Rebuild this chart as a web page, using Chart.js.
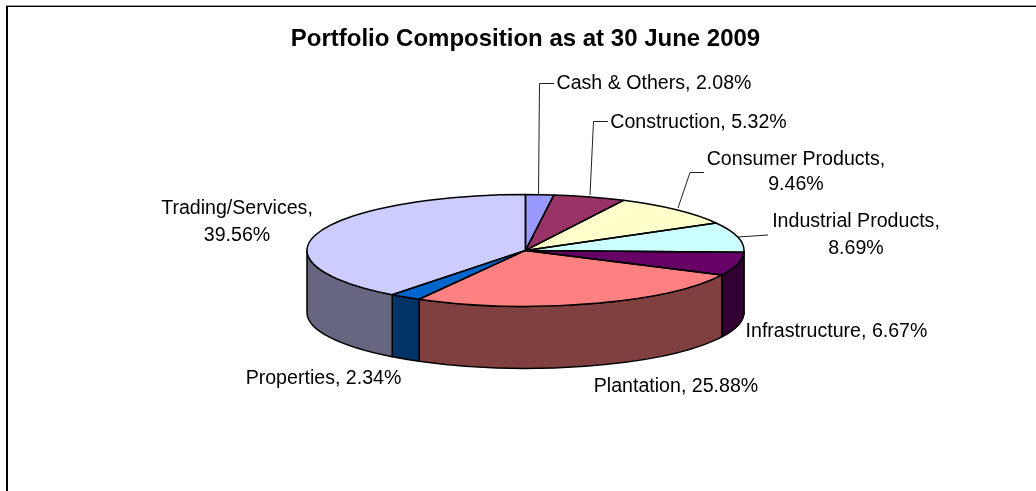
<!DOCTYPE html>
<html>
<head>
<meta charset="utf-8">
<style>
html,body{margin:0;padding:0;background:#fff}
#w{width:1036px;height:491px;position:relative}
</style>
<script src="https://cdn.jsdelivr.net/npm/chart.js@4/dist/chart.umd.min.js"></script>
</head>
<body>
<div id="w"><canvas id="c" width="1036" height="491"></canvas></div>
<script>
const categories = ["Cash & Others","Construction","Consumer Products","Industrial Products","Infrastructure","Plantation","Properties","Trading/Services"];
const values = [2.08,5.32,9.46,8.69,6.67,25.88,2.34,39.56];
const topColors = ["#9999FF","#993366","#FFFFCC","#CCFFFF","#660066","#FF8080","#0066CC","#CCCCFF"];
const sideColors = ["#4D4D80","#4D1A33","#808066","#668080","#330033","#804040","#003366","#666680"];
const titleText = "Portfolio Composition as at 30 June 2009";

const FONT = '"Liberation Sans", Arial, sans-serif';
const TILT = 56 / 218.5, DEPTH = 62;
// label layout: centre x, centre y of each line
const labelLayout = [
  {x:654,y:[84]},{x:698.5,y:[123]},{x:796,y:[159.5,185]},{x:856,y:[222,249]},
  {x:836.5,y:[332]},{x:676,y:[387]},{x:323.5,y:[379]},{x:237,y:[209,236]}
];
const labelBreak = [false,false,true,true,false,false,false,true];
const leaders = [
  [[538.5,194],[539.5,83.5],[554,83.5]],
  [[590,195],[593.5,121.5],[608,121.5]],
  [[678,208],[690,172.5],[704,172.5]],
  [[738,237],[768,235]]
];

const pie3d = {
  id:'pie3d',
  beforeDraw(chart){
    const c = chart.ctx;
    c.save();
    c.fillStyle='#fff';c.fillRect(0,0,chart.width,chart.height);
    c.fillStyle='#9a9a9a';c.fillRect(6,5,1030,1);
    c.fillStyle='#000';c.fillRect(6,6,1030,1);
    c.fillRect(6,6,2,485);
    c.restore();
  },
  beforeDatasetsDraw(chart){
    const c = chart.ctx, arcs = chart.getDatasetMeta(0).data;
    const cx = arcs[0].x, cy = arcs[0].y, rx = arcs[0].outerRadius, ry = rx*TILT;
    c.save();
    c.lineWidth = 1.5; c.strokeStyle = '#000'; c.lineJoin='round';
    arcs.forEach((a,i)=>{
      const a0 = Math.max(a.startAngle,0), a1 = Math.min(a.endAngle,Math.PI);
      if(a1<=a0) return;
      c.beginPath();
      c.ellipse(cx,cy,rx,ry,0,a0,a1);
      c.ellipse(cx,cy+DEPTH,rx,ry,0,a1,a0,true);
      c.closePath();
      c.fillStyle = sideColors[i];
      c.fill(); c.stroke();
    });
    c.restore();
    c.save();
    c.translate(cx,cy); c.scale(1,TILT); c.translate(-cx,-cy);
  },
  afterDatasetsDraw(chart){
    const c = chart.ctx, arcs = chart.getDatasetMeta(0).data;
    c.restore();
    const cx = arcs[0].x, cy = arcs[0].y, rx = arcs[0].outerRadius, ry = rx*TILT;
    c.save();
    c.lineWidth = 1.5; c.strokeStyle = '#000'; c.lineJoin='round';
    arcs.forEach(a=>{
      c.beginPath();
      c.moveTo(cx,cy);
      c.ellipse(cx,cy,rx,ry,0,a.startAngle,a.endAngle);
      c.closePath();
      c.stroke();
    });
    c.lineWidth = 1; c.strokeStyle='#222';
    leaders.forEach(l=>{
      c.beginPath();
      l.forEach((p,i)=> i? c.lineTo(p[0],p[1]) : c.moveTo(p[0],p[1]));
      c.stroke();
    });
    c.fillStyle='#000'; c.font='19.6px '+FONT; c.textAlign='center'; c.textBaseline='middle';
    categories.forEach((n,i)=>{
      const pct = values[i].toFixed(2)+'%', L = labelLayout[i];
      if(labelBreak[i]){
        c.fillText(n+',',L.x,L.y[0]);
        c.fillText(pct,L.x,L.y[1]);
      } else c.fillText(n+', '+pct,L.x,L.y[0]);
    });
    c.restore();
  }
};

new Chart(document.getElementById('c'),{
  type:'pie',
  data:{labels:categories,datasets:[{data:values,backgroundColor:topColors,borderWidth:0,clip:false}]},
  options:{
    responsive:false,animation:false,
    radius:218.5,
    layout:{padding:{left:33,right:18,top:0,bottom:49}},
    events:[],
    plugins:{
      legend:{display:false},tooltip:{enabled:false},
      title:{display:true,text:titleText,color:'#000',font:{family:FONT,size:24,weight:'bold'},padding:{top:25,bottom:5}}
    }
  },
  plugins:[pie3d]
});
</script>
</body>
</html>
